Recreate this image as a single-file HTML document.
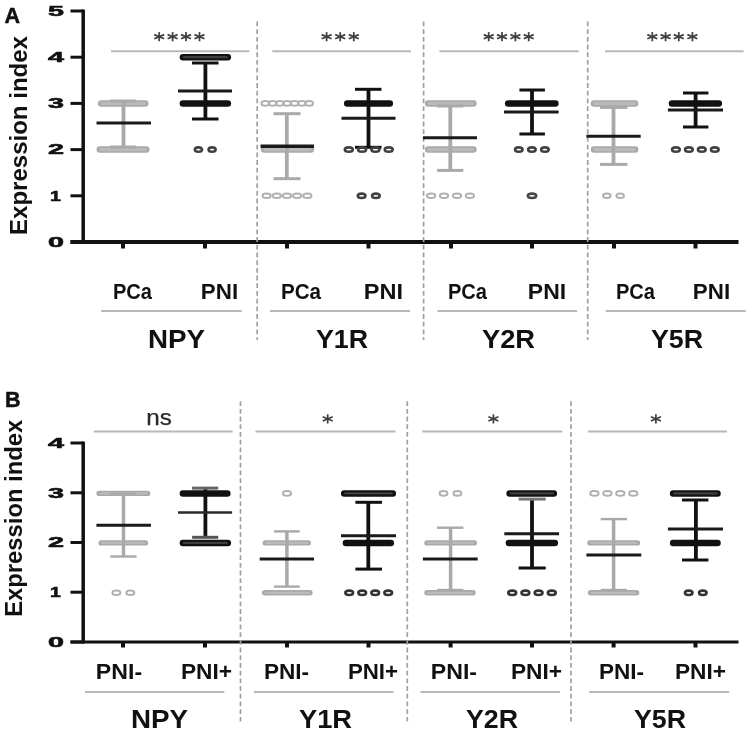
<!DOCTYPE html>
<html><head><meta charset="utf-8"><style>
html,body{margin:0;padding:0;background:#fff;}
svg{display:block;filter:blur(0.7px);}
text{font-family:"Liberation Sans",sans-serif;}
</style></head><body>
<svg width="749" height="733" viewBox="0 0 749 733">
<rect width="749" height="733" fill="#fff"/>
<text x="4.6" y="22.9" font-family="Liberation Sans" font-size="21.5" font-weight="bold" fill="#111" text-anchor="start" stroke="#111" stroke-width="0.5">A</text>
<text x="5.0" y="406.6" font-family="Liberation Sans" font-size="21.5" font-weight="bold" fill="#111" text-anchor="start" stroke="#111" stroke-width="0.5">B</text>
<text transform="translate(27.3,235) rotate(-90)" font-family="Liberation Sans" font-size="23.5" font-weight="bold" fill="#111" textLength="199" lengthAdjust="spacingAndGlyphs">Expression index</text>
<text transform="translate(22.3,616.8) rotate(-90)" font-family="Liberation Sans" font-size="23.5" font-weight="bold" fill="#111" textLength="197" lengthAdjust="spacingAndGlyphs">Expression index</text>
<text x="48" y="246.8" font-family="Liberation Sans" font-size="15.5" font-weight="bold" fill="#111" stroke="#111" stroke-width="0.6" textLength="16" lengthAdjust="spacingAndGlyphs">0</text>
<line x1="70.5" y1="242.0" x2="83.0" y2="242.0" stroke="#111" stroke-width="3" stroke-linecap="butt" />
<text x="50" y="200.6" font-family="Liberation Sans" font-size="15.5" font-weight="bold" fill="#111" stroke="#111" stroke-width="0.6" textLength="10.799999999999997" lengthAdjust="spacingAndGlyphs">1</text>
<line x1="70.5" y1="195.8" x2="83.0" y2="195.8" stroke="#111" stroke-width="3" stroke-linecap="butt" />
<text x="48" y="154.4" font-family="Liberation Sans" font-size="15.5" font-weight="bold" fill="#111" stroke="#111" stroke-width="0.6" textLength="16" lengthAdjust="spacingAndGlyphs">2</text>
<line x1="70.5" y1="149.6" x2="83.0" y2="149.6" stroke="#111" stroke-width="3" stroke-linecap="butt" />
<text x="48" y="108.2" font-family="Liberation Sans" font-size="15.5" font-weight="bold" fill="#111" stroke="#111" stroke-width="0.6" textLength="16" lengthAdjust="spacingAndGlyphs">3</text>
<line x1="70.5" y1="103.4" x2="83.0" y2="103.4" stroke="#111" stroke-width="3" stroke-linecap="butt" />
<text x="48" y="62.0" font-family="Liberation Sans" font-size="15.5" font-weight="bold" fill="#111" stroke="#111" stroke-width="0.6" textLength="16" lengthAdjust="spacingAndGlyphs">4</text>
<line x1="70.5" y1="57.2" x2="83.0" y2="57.2" stroke="#111" stroke-width="3" stroke-linecap="butt" />
<text x="48" y="15.8" font-family="Liberation Sans" font-size="15.5" font-weight="bold" fill="#111" stroke="#111" stroke-width="0.6" textLength="16" lengthAdjust="spacingAndGlyphs">5</text>
<line x1="70.5" y1="11.0" x2="83.0" y2="11.0" stroke="#111" stroke-width="3" stroke-linecap="butt" />
<text x="48" y="646.8" font-family="Liberation Sans" font-size="15.5" font-weight="bold" fill="#111" stroke="#111" stroke-width="0.6" textLength="16" lengthAdjust="spacingAndGlyphs">0</text>
<line x1="70.5" y1="642.0" x2="83.0" y2="642.0" stroke="#111" stroke-width="3" stroke-linecap="butt" />
<text x="50" y="597.0" font-family="Liberation Sans" font-size="15.5" font-weight="bold" fill="#111" stroke="#111" stroke-width="0.6" textLength="10.799999999999997" lengthAdjust="spacingAndGlyphs">1</text>
<line x1="70.5" y1="592.2" x2="83.0" y2="592.2" stroke="#111" stroke-width="3" stroke-linecap="butt" />
<text x="48" y="547.3" font-family="Liberation Sans" font-size="15.5" font-weight="bold" fill="#111" stroke="#111" stroke-width="0.6" textLength="16" lengthAdjust="spacingAndGlyphs">2</text>
<line x1="70.5" y1="542.5" x2="83.0" y2="542.5" stroke="#111" stroke-width="3" stroke-linecap="butt" />
<text x="48" y="497.6" font-family="Liberation Sans" font-size="15.5" font-weight="bold" fill="#111" stroke="#111" stroke-width="0.6" textLength="16" lengthAdjust="spacingAndGlyphs">3</text>
<line x1="70.5" y1="492.8" x2="83.0" y2="492.8" stroke="#111" stroke-width="3" stroke-linecap="butt" />
<text x="48" y="447.8" font-family="Liberation Sans" font-size="15.5" font-weight="bold" fill="#111" stroke="#111" stroke-width="0.6" textLength="16" lengthAdjust="spacingAndGlyphs">4</text>
<line x1="70.5" y1="443.0" x2="83.0" y2="443.0" stroke="#111" stroke-width="3" stroke-linecap="butt" />
<line x1="83.2" y1="9.5" x2="83.2" y2="243.7" stroke="#111" stroke-width="3.5" stroke-linecap="butt" />
<line x1="70.5" y1="242.0" x2="738.5" y2="242.0" stroke="#111" stroke-width="3.8" stroke-linecap="butt" />
<line x1="83.2" y1="441.5" x2="83.2" y2="643.5" stroke="#111" stroke-width="3.5" stroke-linecap="butt" />
<line x1="70.5" y1="642.0" x2="738.5" y2="642.0" stroke="#111" stroke-width="3" stroke-linecap="butt" />
<line x1="123.0" y1="242.0" x2="123.0" y2="248.5" stroke="#111" stroke-width="4" stroke-linecap="butt" />
<line x1="205.0" y1="242.0" x2="205.0" y2="248.5" stroke="#111" stroke-width="4" stroke-linecap="butt" />
<line x1="287.0" y1="242.0" x2="287.0" y2="248.5" stroke="#111" stroke-width="4" stroke-linecap="butt" />
<line x1="368.5" y1="242.0" x2="368.5" y2="248.5" stroke="#111" stroke-width="4" stroke-linecap="butt" />
<line x1="451.0" y1="242.0" x2="451.0" y2="248.5" stroke="#111" stroke-width="4" stroke-linecap="butt" />
<line x1="532.0" y1="242.0" x2="532.0" y2="248.5" stroke="#111" stroke-width="4" stroke-linecap="butt" />
<line x1="614.0" y1="242.0" x2="614.0" y2="248.5" stroke="#111" stroke-width="4" stroke-linecap="butt" />
<line x1="695.5" y1="242.0" x2="695.5" y2="248.5" stroke="#111" stroke-width="4" stroke-linecap="butt" />
<line x1="123.0" y1="642.0" x2="123.0" y2="647.5" stroke="#111" stroke-width="4" stroke-linecap="butt" />
<line x1="205.0" y1="642.0" x2="205.0" y2="647.5" stroke="#111" stroke-width="4" stroke-linecap="butt" />
<line x1="287.0" y1="642.0" x2="287.0" y2="647.5" stroke="#111" stroke-width="4" stroke-linecap="butt" />
<line x1="368.5" y1="642.0" x2="368.5" y2="647.5" stroke="#111" stroke-width="4" stroke-linecap="butt" />
<line x1="450.6" y1="642.0" x2="450.6" y2="647.5" stroke="#111" stroke-width="4" stroke-linecap="butt" />
<line x1="532.0" y1="642.0" x2="532.0" y2="647.5" stroke="#111" stroke-width="4" stroke-linecap="butt" />
<line x1="613.6" y1="642.0" x2="613.6" y2="647.5" stroke="#111" stroke-width="4" stroke-linecap="butt" />
<line x1="695.5" y1="642.0" x2="695.5" y2="647.5" stroke="#111" stroke-width="4" stroke-linecap="butt" />
<line x1="257.2" y1="21.5" x2="257.2" y2="340.0" stroke="#a0a0a0" stroke-width="1.7" stroke-linecap="butt" stroke-dasharray="4.8 2.9"/>
<line x1="423.6" y1="21.5" x2="423.6" y2="340.0" stroke="#a0a0a0" stroke-width="1.7" stroke-linecap="butt" stroke-dasharray="4.8 2.9"/>
<line x1="587.7" y1="21.5" x2="587.7" y2="340.0" stroke="#a0a0a0" stroke-width="1.7" stroke-linecap="butt" stroke-dasharray="4.8 2.9"/>
<line x1="240.5" y1="401.2" x2="240.5" y2="721.5" stroke="#a0a0a0" stroke-width="1.7" stroke-linecap="butt" stroke-dasharray="4.8 2.9"/>
<line x1="407.3" y1="401.2" x2="407.3" y2="721.5" stroke="#a0a0a0" stroke-width="1.7" stroke-linecap="butt" stroke-dasharray="4.8 2.9"/>
<line x1="571.0" y1="401.2" x2="571.0" y2="721.5" stroke="#a0a0a0" stroke-width="1.7" stroke-linecap="butt" stroke-dasharray="4.8 2.9"/>
<line x1="111.0" y1="51.3" x2="249.3" y2="51.3" stroke="#b8b8b8" stroke-width="2" stroke-linecap="butt" />
<line x1="272.3" y1="51.3" x2="411.0" y2="51.3" stroke="#b8b8b8" stroke-width="2" stroke-linecap="butt" />
<line x1="439.4" y1="51.3" x2="578.6" y2="51.3" stroke="#b8b8b8" stroke-width="2" stroke-linecap="butt" />
<line x1="605.0" y1="51.3" x2="743.6" y2="51.3" stroke="#b8b8b8" stroke-width="2" stroke-linecap="butt" />
<line x1="93.8" y1="431.5" x2="232.7" y2="431.5" stroke="#b8b8b8" stroke-width="2" stroke-linecap="butt" />
<line x1="255.4" y1="431.5" x2="395.4" y2="431.5" stroke="#b8b8b8" stroke-width="2" stroke-linecap="butt" />
<line x1="422.3" y1="431.5" x2="562.3" y2="431.5" stroke="#b8b8b8" stroke-width="2" stroke-linecap="butt" />
<line x1="587.9" y1="431.5" x2="727.0" y2="431.5" stroke="#b8b8b8" stroke-width="2" stroke-linecap="butt" />
<line x1="159.2" y1="32.1" x2="159.2" y2="41.3" stroke="#404040" stroke-width="1.75" stroke-linecap="butt" />
<line x1="154.2" y1="34.6" x2="164.2" y2="38.8" stroke="#404040" stroke-width="1.75" stroke-linecap="butt" />
<line x1="154.2" y1="38.8" x2="164.2" y2="34.6" stroke="#404040" stroke-width="1.75" stroke-linecap="butt" />
<line x1="172.6" y1="32.1" x2="172.6" y2="41.3" stroke="#404040" stroke-width="1.75" stroke-linecap="butt" />
<line x1="167.6" y1="34.6" x2="177.6" y2="38.8" stroke="#404040" stroke-width="1.75" stroke-linecap="butt" />
<line x1="167.6" y1="38.8" x2="177.6" y2="34.6" stroke="#404040" stroke-width="1.75" stroke-linecap="butt" />
<line x1="186.0" y1="32.1" x2="186.0" y2="41.3" stroke="#404040" stroke-width="1.75" stroke-linecap="butt" />
<line x1="181.0" y1="34.6" x2="191.0" y2="38.8" stroke="#404040" stroke-width="1.75" stroke-linecap="butt" />
<line x1="181.0" y1="38.8" x2="191.0" y2="34.6" stroke="#404040" stroke-width="1.75" stroke-linecap="butt" />
<line x1="199.5" y1="32.1" x2="199.5" y2="41.3" stroke="#404040" stroke-width="1.75" stroke-linecap="butt" />
<line x1="194.5" y1="34.6" x2="204.5" y2="38.8" stroke="#404040" stroke-width="1.75" stroke-linecap="butt" />
<line x1="194.5" y1="38.8" x2="204.5" y2="34.6" stroke="#404040" stroke-width="1.75" stroke-linecap="butt" />
<line x1="326.6" y1="32.1" x2="326.6" y2="41.3" stroke="#404040" stroke-width="1.75" stroke-linecap="butt" />
<line x1="321.6" y1="34.6" x2="331.6" y2="38.8" stroke="#404040" stroke-width="1.75" stroke-linecap="butt" />
<line x1="321.6" y1="38.8" x2="331.6" y2="34.6" stroke="#404040" stroke-width="1.75" stroke-linecap="butt" />
<line x1="340.2" y1="32.1" x2="340.2" y2="41.3" stroke="#404040" stroke-width="1.75" stroke-linecap="butt" />
<line x1="335.2" y1="34.6" x2="345.2" y2="38.8" stroke="#404040" stroke-width="1.75" stroke-linecap="butt" />
<line x1="335.2" y1="38.8" x2="345.2" y2="34.6" stroke="#404040" stroke-width="1.75" stroke-linecap="butt" />
<line x1="353.8" y1="32.1" x2="353.8" y2="41.3" stroke="#404040" stroke-width="1.75" stroke-linecap="butt" />
<line x1="348.8" y1="34.6" x2="358.8" y2="38.8" stroke="#404040" stroke-width="1.75" stroke-linecap="butt" />
<line x1="348.8" y1="38.8" x2="358.8" y2="34.6" stroke="#404040" stroke-width="1.75" stroke-linecap="butt" />
<line x1="488.7" y1="32.1" x2="488.7" y2="41.3" stroke="#404040" stroke-width="1.75" stroke-linecap="butt" />
<line x1="483.7" y1="34.6" x2="493.7" y2="38.8" stroke="#404040" stroke-width="1.75" stroke-linecap="butt" />
<line x1="483.7" y1="38.8" x2="493.7" y2="34.6" stroke="#404040" stroke-width="1.75" stroke-linecap="butt" />
<line x1="502.0" y1="32.1" x2="502.0" y2="41.3" stroke="#404040" stroke-width="1.75" stroke-linecap="butt" />
<line x1="497.0" y1="34.6" x2="507.0" y2="38.8" stroke="#404040" stroke-width="1.75" stroke-linecap="butt" />
<line x1="497.0" y1="38.8" x2="507.0" y2="34.6" stroke="#404040" stroke-width="1.75" stroke-linecap="butt" />
<line x1="515.4" y1="32.1" x2="515.4" y2="41.3" stroke="#404040" stroke-width="1.75" stroke-linecap="butt" />
<line x1="510.4" y1="34.6" x2="520.4" y2="38.8" stroke="#404040" stroke-width="1.75" stroke-linecap="butt" />
<line x1="510.4" y1="38.8" x2="520.4" y2="34.6" stroke="#404040" stroke-width="1.75" stroke-linecap="butt" />
<line x1="528.7" y1="32.1" x2="528.7" y2="41.3" stroke="#404040" stroke-width="1.75" stroke-linecap="butt" />
<line x1="523.7" y1="34.6" x2="533.7" y2="38.8" stroke="#404040" stroke-width="1.75" stroke-linecap="butt" />
<line x1="523.7" y1="38.8" x2="533.7" y2="34.6" stroke="#404040" stroke-width="1.75" stroke-linecap="butt" />
<line x1="652.3" y1="32.1" x2="652.3" y2="41.3" stroke="#404040" stroke-width="1.75" stroke-linecap="butt" />
<line x1="647.3" y1="34.6" x2="657.3" y2="38.8" stroke="#404040" stroke-width="1.75" stroke-linecap="butt" />
<line x1="647.3" y1="38.8" x2="657.3" y2="34.6" stroke="#404040" stroke-width="1.75" stroke-linecap="butt" />
<line x1="665.6" y1="32.1" x2="665.6" y2="41.3" stroke="#404040" stroke-width="1.75" stroke-linecap="butt" />
<line x1="660.6" y1="34.6" x2="670.6" y2="38.8" stroke="#404040" stroke-width="1.75" stroke-linecap="butt" />
<line x1="660.6" y1="38.8" x2="670.6" y2="34.6" stroke="#404040" stroke-width="1.75" stroke-linecap="butt" />
<line x1="678.8" y1="32.1" x2="678.8" y2="41.3" stroke="#404040" stroke-width="1.75" stroke-linecap="butt" />
<line x1="673.8" y1="34.6" x2="683.8" y2="38.8" stroke="#404040" stroke-width="1.75" stroke-linecap="butt" />
<line x1="673.8" y1="38.8" x2="683.8" y2="34.6" stroke="#404040" stroke-width="1.75" stroke-linecap="butt" />
<line x1="692.4" y1="32.1" x2="692.4" y2="41.3" stroke="#404040" stroke-width="1.75" stroke-linecap="butt" />
<line x1="687.4" y1="34.6" x2="697.4" y2="38.8" stroke="#404040" stroke-width="1.75" stroke-linecap="butt" />
<line x1="687.4" y1="38.8" x2="697.4" y2="34.6" stroke="#404040" stroke-width="1.75" stroke-linecap="butt" />
<line x1="327.7" y1="414.3" x2="327.7" y2="423.5" stroke="#404040" stroke-width="1.75" stroke-linecap="butt" />
<line x1="322.7" y1="416.8" x2="332.7" y2="421.0" stroke="#404040" stroke-width="1.75" stroke-linecap="butt" />
<line x1="322.7" y1="421.0" x2="332.7" y2="416.8" stroke="#404040" stroke-width="1.75" stroke-linecap="butt" />
<line x1="493.4" y1="414.3" x2="493.4" y2="423.5" stroke="#404040" stroke-width="1.75" stroke-linecap="butt" />
<line x1="488.4" y1="416.8" x2="498.4" y2="421.0" stroke="#404040" stroke-width="1.75" stroke-linecap="butt" />
<line x1="488.4" y1="421.0" x2="498.4" y2="416.8" stroke="#404040" stroke-width="1.75" stroke-linecap="butt" />
<line x1="655.9" y1="414.3" x2="655.9" y2="423.5" stroke="#404040" stroke-width="1.75" stroke-linecap="butt" />
<line x1="650.9" y1="416.8" x2="660.9" y2="421.0" stroke="#404040" stroke-width="1.75" stroke-linecap="butt" />
<line x1="650.9" y1="421.0" x2="660.9" y2="416.8" stroke="#404040" stroke-width="1.75" stroke-linecap="butt" />
<text x="146.3" y="425.3" font-family="Liberation Sans" font-size="22" font-weight="normal" fill="#2a2a2a" text-anchor="start" textLength="25.6" lengthAdjust="spacingAndGlyphs" stroke="#2a2a2a" stroke-width="0.25">ns</text>
<text x="112.91" y="299" font-family="Liberation Sans" font-size="22.6" font-weight="bold" fill="#111" text-anchor="start" textLength="39.09" lengthAdjust="spacingAndGlyphs" >PCa</text>
<text x="200.86" y="299" font-family="Liberation Sans" font-size="22.6" font-weight="bold" fill="#111" text-anchor="start" textLength="37.29" lengthAdjust="spacingAndGlyphs" >PNI</text>
<text x="280.91" y="299" font-family="Liberation Sans" font-size="22.6" font-weight="bold" fill="#111" text-anchor="start" textLength="40.09" lengthAdjust="spacingAndGlyphs" >PCa</text>
<text x="363.88" y="299" font-family="Liberation Sans" font-size="22.6" font-weight="bold" fill="#111" text-anchor="start" textLength="39.27" lengthAdjust="spacingAndGlyphs" >PNI</text>
<text x="447.98" y="299" font-family="Liberation Sans" font-size="22.6" font-weight="bold" fill="#111" text-anchor="start" textLength="39.05" lengthAdjust="spacingAndGlyphs" >PCa</text>
<text x="527.88" y="299" font-family="Liberation Sans" font-size="22.6" font-weight="bold" fill="#111" text-anchor="start" textLength="38.34" lengthAdjust="spacingAndGlyphs" >PNI</text>
<text x="615.91" y="299" font-family="Liberation Sans" font-size="22.6" font-weight="bold" fill="#111" text-anchor="start" textLength="39.09" lengthAdjust="spacingAndGlyphs" >PCa</text>
<text x="692.85" y="299" font-family="Liberation Sans" font-size="22.6" font-weight="bold" fill="#111" text-anchor="start" textLength="37.27" lengthAdjust="spacingAndGlyphs" >PNI</text>
<text x="95.89" y="679" font-family="Liberation Sans" font-size="22.6" font-weight="bold" fill="#111" text-anchor="start" textLength="46.20" lengthAdjust="spacingAndGlyphs" >PNI-</text>
<text x="180.90" y="679" font-family="Liberation Sans" font-size="22.6" font-weight="bold" fill="#111" text-anchor="start" textLength="51.16" lengthAdjust="spacingAndGlyphs" >PNI+</text>
<text x="263.90" y="679" font-family="Liberation Sans" font-size="22.6" font-weight="bold" fill="#111" text-anchor="start" textLength="45.19" lengthAdjust="spacingAndGlyphs" >PNI-</text>
<text x="347.91" y="679" font-family="Liberation Sans" font-size="22.6" font-weight="bold" fill="#111" text-anchor="start" textLength="50.15" lengthAdjust="spacingAndGlyphs" >PNI+</text>
<text x="430.84" y="679" font-family="Liberation Sans" font-size="22.6" font-weight="bold" fill="#111" text-anchor="start" textLength="46.24" lengthAdjust="spacingAndGlyphs" >PNI-</text>
<text x="510.94" y="679" font-family="Liberation Sans" font-size="22.6" font-weight="bold" fill="#111" text-anchor="start" textLength="51.16" lengthAdjust="spacingAndGlyphs" >PNI+</text>
<text x="598.93" y="679" font-family="Liberation Sans" font-size="22.6" font-weight="bold" fill="#111" text-anchor="start" textLength="45.11" lengthAdjust="spacingAndGlyphs" >PNI-</text>
<text x="674.91" y="679" font-family="Liberation Sans" font-size="22.6" font-weight="bold" fill="#111" text-anchor="start" textLength="51.15" lengthAdjust="spacingAndGlyphs" >PNI+</text>
<text x="147.91" y="347.8" font-family="Liberation Sans" font-size="26.2" font-weight="bold" fill="#111" text-anchor="start" textLength="57.11" lengthAdjust="spacingAndGlyphs" >NPY</text>
<text x="315.92" y="347.8" font-family="Liberation Sans" font-size="26.2" font-weight="bold" fill="#111" text-anchor="start" textLength="52.15" lengthAdjust="spacingAndGlyphs" >Y1R</text>
<text x="481.93" y="347.8" font-family="Liberation Sans" font-size="26.2" font-weight="bold" fill="#111" text-anchor="start" textLength="53.12" lengthAdjust="spacingAndGlyphs" >Y2R</text>
<text x="650.93" y="347.8" font-family="Liberation Sans" font-size="26.2" font-weight="bold" fill="#111" text-anchor="start" textLength="52.15" lengthAdjust="spacingAndGlyphs" >Y5R</text>
<text x="130.93" y="728.3" font-family="Liberation Sans" font-size="26.2" font-weight="bold" fill="#111" text-anchor="start" textLength="57.10" lengthAdjust="spacingAndGlyphs" >NPY</text>
<text x="298.93" y="728.3" font-family="Liberation Sans" font-size="26.2" font-weight="bold" fill="#111" text-anchor="start" textLength="53.13" lengthAdjust="spacingAndGlyphs" >Y1R</text>
<text x="465.96" y="728.3" font-family="Liberation Sans" font-size="26.2" font-weight="bold" fill="#111" text-anchor="start" textLength="52.11" lengthAdjust="spacingAndGlyphs" >Y2R</text>
<text x="633.96" y="728.3" font-family="Liberation Sans" font-size="26.2" font-weight="bold" fill="#111" text-anchor="start" textLength="52.08" lengthAdjust="spacingAndGlyphs" >Y5R</text>
<line x1="101.2" y1="311.0" x2="241.7" y2="311.0" stroke="#b8b8b8" stroke-width="2" stroke-linecap="butt" />
<line x1="270.0" y1="311.0" x2="410.0" y2="311.0" stroke="#b8b8b8" stroke-width="2" stroke-linecap="butt" />
<line x1="437.4" y1="311.0" x2="577.0" y2="311.0" stroke="#b8b8b8" stroke-width="2" stroke-linecap="butt" />
<line x1="605.7" y1="311.0" x2="745.7" y2="311.0" stroke="#b8b8b8" stroke-width="2" stroke-linecap="butt" />
<line x1="85.0" y1="692.0" x2="224.3" y2="692.0" stroke="#b8b8b8" stroke-width="2" stroke-linecap="butt" />
<line x1="254.0" y1="692.0" x2="393.4" y2="692.0" stroke="#b8b8b8" stroke-width="2" stroke-linecap="butt" />
<line x1="420.6" y1="692.0" x2="560.0" y2="692.0" stroke="#b8b8b8" stroke-width="2" stroke-linecap="butt" />
<line x1="589.3" y1="692.0" x2="729.3" y2="692.0" stroke="#b8b8b8" stroke-width="2" stroke-linecap="butt" />
<line x1="101.2" y1="103.4" x2="145.2" y2="103.4" stroke="#a9a9a9" stroke-width="6.5" stroke-linecap="round" />
<line x1="102.2" y1="103.4" x2="144.2" y2="103.4" stroke="#bababa" stroke-width="3.3" stroke-linecap="round" />
<line x1="99.8" y1="149.6" x2="146.2" y2="149.6" stroke="#a9a9a9" stroke-width="6.5" stroke-linecap="round" />
<line x1="100.8" y1="149.6" x2="145.2" y2="149.6" stroke="#bababa" stroke-width="3.3" stroke-linecap="round" />
<line x1="123.5" y1="101.0" x2="123.5" y2="147.0" stroke="#a9a9a9" stroke-width="3.8" stroke-linecap="butt" />
<line x1="110.0" y1="101.0" x2="136.0" y2="101.0" stroke="#a9a9a9" stroke-width="3" stroke-linecap="butt" />
<line x1="110.0" y1="147.0" x2="136.0" y2="147.0" stroke="#a9a9a9" stroke-width="3" stroke-linecap="butt" />
<line x1="96.5" y1="122.9" x2="151.0" y2="122.9" stroke="#1a1a1a" stroke-width="3" stroke-linecap="butt" />
<line x1="182.9" y1="57.2" x2="227.8" y2="57.2" stroke="#111" stroke-width="6.5" stroke-linecap="round" />
<line x1="183.9" y1="57.2" x2="226.8" y2="57.2" stroke="#3e3e3e" stroke-width="2.2" stroke-linecap="round" />
<line x1="182.9" y1="103.4" x2="227.8" y2="103.4" stroke="#111" stroke-width="6.5" stroke-linecap="round" />
<line x1="205.4" y1="63.0" x2="205.4" y2="119.0" stroke="#111" stroke-width="3.8" stroke-linecap="butt" />
<line x1="192.0" y1="63.0" x2="218.5" y2="63.0" stroke="#111" stroke-width="3" stroke-linecap="butt" />
<line x1="192.0" y1="119.0" x2="218.5" y2="119.0" stroke="#111" stroke-width="3" stroke-linecap="butt" />
<line x1="178.0" y1="90.9" x2="232.0" y2="90.9" stroke="#1a1a1a" stroke-width="3" stroke-linecap="butt" />
<ellipse cx="198.4" cy="149.6" rx="3.55" ry="2.20" fill="none" stroke="#404040" stroke-width="2.6"/>
<ellipse cx="212.1" cy="149.6" rx="3.55" ry="2.20" fill="none" stroke="#404040" stroke-width="2.6"/>
<ellipse cx="265.3" cy="103.4" rx="3.80" ry="2.30" fill="none" stroke="#b0b0b0" stroke-width="2.0"/>
<ellipse cx="272.6" cy="103.4" rx="3.80" ry="2.30" fill="none" stroke="#b0b0b0" stroke-width="2.0"/>
<ellipse cx="279.9" cy="103.4" rx="3.80" ry="2.30" fill="none" stroke="#b0b0b0" stroke-width="2.0"/>
<ellipse cx="287.2" cy="103.4" rx="3.80" ry="2.30" fill="none" stroke="#b0b0b0" stroke-width="2.0"/>
<ellipse cx="294.6" cy="103.4" rx="3.80" ry="2.30" fill="none" stroke="#b0b0b0" stroke-width="2.0"/>
<ellipse cx="301.9" cy="103.4" rx="3.80" ry="2.30" fill="none" stroke="#b0b0b0" stroke-width="2.0"/>
<ellipse cx="309.2" cy="103.4" rx="3.80" ry="2.30" fill="none" stroke="#b0b0b0" stroke-width="2.0"/>
<line x1="264.2" y1="149.6" x2="310.8" y2="149.6" stroke="#a9a9a9" stroke-width="6.5" stroke-linecap="round" />
<line x1="265.2" y1="149.6" x2="309.8" y2="149.6" stroke="#bababa" stroke-width="3.3" stroke-linecap="round" />
<ellipse cx="266.6" cy="195.8" rx="4.10" ry="2.30" fill="none" stroke="#b0b0b0" stroke-width="2.0"/>
<ellipse cx="276.8" cy="195.8" rx="4.10" ry="2.30" fill="none" stroke="#b0b0b0" stroke-width="2.0"/>
<ellipse cx="287.0" cy="195.8" rx="4.10" ry="2.30" fill="none" stroke="#b0b0b0" stroke-width="2.0"/>
<ellipse cx="297.2" cy="195.8" rx="4.10" ry="2.30" fill="none" stroke="#b0b0b0" stroke-width="2.0"/>
<ellipse cx="307.4" cy="195.8" rx="4.10" ry="2.30" fill="none" stroke="#b0b0b0" stroke-width="2.0"/>
<line x1="286.8" y1="113.7" x2="286.8" y2="178.7" stroke="#a9a9a9" stroke-width="3.8" stroke-linecap="butt" />
<line x1="273.5" y1="113.7" x2="300.5" y2="113.7" stroke="#a9a9a9" stroke-width="3" stroke-linecap="butt" />
<line x1="273.5" y1="178.7" x2="300.5" y2="178.7" stroke="#a9a9a9" stroke-width="3" stroke-linecap="butt" />
<line x1="260.5" y1="146.3" x2="314.0" y2="146.3" stroke="#1a1a1a" stroke-width="3.5" stroke-linecap="butt" />
<line x1="347.2" y1="103.4" x2="389.8" y2="103.4" stroke="#111" stroke-width="6.5" stroke-linecap="round" />
<line x1="368.5" y1="89.3" x2="368.5" y2="147.3" stroke="#111" stroke-width="3.8" stroke-linecap="butt" />
<line x1="355.0" y1="89.3" x2="381.5" y2="89.3" stroke="#111" stroke-width="3" stroke-linecap="butt" />
<line x1="355.0" y1="147.3" x2="381.5" y2="147.3" stroke="#111" stroke-width="3" stroke-linecap="butt" />
<line x1="341.5" y1="118.3" x2="395.5" y2="118.3" stroke="#1a1a1a" stroke-width="3" stroke-linecap="butt" />
<ellipse cx="348.8" cy="149.6" rx="4.01" ry="2.20" fill="none" stroke="#404040" stroke-width="2.6"/>
<ellipse cx="362.1" cy="149.6" rx="4.01" ry="2.20" fill="none" stroke="#404040" stroke-width="2.6"/>
<ellipse cx="375.4" cy="149.6" rx="4.01" ry="2.20" fill="none" stroke="#404040" stroke-width="2.6"/>
<ellipse cx="388.7" cy="149.6" rx="4.01" ry="2.20" fill="none" stroke="#404040" stroke-width="2.6"/>
<ellipse cx="361.6" cy="195.8" rx="3.83" ry="2.20" fill="none" stroke="#404040" stroke-width="2.6"/>
<ellipse cx="375.9" cy="195.8" rx="3.83" ry="2.20" fill="none" stroke="#404040" stroke-width="2.6"/>
<line x1="428.2" y1="103.4" x2="473.4" y2="103.4" stroke="#a9a9a9" stroke-width="6.5" stroke-linecap="round" />
<line x1="429.2" y1="103.4" x2="472.4" y2="103.4" stroke="#bababa" stroke-width="3.3" stroke-linecap="round" />
<line x1="428.2" y1="149.6" x2="473.4" y2="149.6" stroke="#a9a9a9" stroke-width="6.5" stroke-linecap="round" />
<line x1="429.2" y1="149.6" x2="472.4" y2="149.6" stroke="#bababa" stroke-width="3.3" stroke-linecap="round" />
<ellipse cx="431.1" cy="195.8" rx="4.12" ry="2.30" fill="none" stroke="#b0b0b0" stroke-width="2.0"/>
<ellipse cx="444.0" cy="195.8" rx="4.12" ry="2.30" fill="none" stroke="#b0b0b0" stroke-width="2.0"/>
<ellipse cx="457.0" cy="195.8" rx="4.12" ry="2.30" fill="none" stroke="#b0b0b0" stroke-width="2.0"/>
<ellipse cx="469.9" cy="195.8" rx="4.12" ry="2.30" fill="none" stroke="#b0b0b0" stroke-width="2.0"/>
<line x1="450.3" y1="106.0" x2="450.3" y2="170.4" stroke="#a9a9a9" stroke-width="3.8" stroke-linecap="butt" />
<line x1="437.1" y1="106.0" x2="463.3" y2="106.0" stroke="#a9a9a9" stroke-width="3" stroke-linecap="butt" />
<line x1="437.1" y1="170.4" x2="463.3" y2="170.4" stroke="#a9a9a9" stroke-width="3" stroke-linecap="butt" />
<line x1="423.0" y1="137.7" x2="477.0" y2="137.7" stroke="#1a1a1a" stroke-width="3" stroke-linecap="butt" />
<line x1="508.2" y1="103.4" x2="555.4" y2="103.4" stroke="#111" stroke-width="6.5" stroke-linecap="round" />
<line x1="532.0" y1="90.0" x2="532.0" y2="134.0" stroke="#111" stroke-width="3.8" stroke-linecap="butt" />
<line x1="519.4" y1="90.0" x2="544.9" y2="90.0" stroke="#111" stroke-width="3" stroke-linecap="butt" />
<line x1="519.4" y1="134.0" x2="544.9" y2="134.0" stroke="#111" stroke-width="3" stroke-linecap="butt" />
<line x1="504.0" y1="112.0" x2="558.6" y2="112.0" stroke="#1a1a1a" stroke-width="3" stroke-linecap="butt" />
<ellipse cx="518.8" cy="149.6" rx="3.75" ry="2.20" fill="none" stroke="#404040" stroke-width="2.6"/>
<ellipse cx="531.9" cy="149.6" rx="3.75" ry="2.20" fill="none" stroke="#404040" stroke-width="2.6"/>
<ellipse cx="544.9" cy="149.6" rx="3.75" ry="2.20" fill="none" stroke="#404040" stroke-width="2.6"/>
<ellipse cx="532.0" cy="195.8" rx="4.20" ry="2.20" fill="none" stroke="#474747" stroke-width="2.6"/>
<line x1="594.0" y1="103.4" x2="635.1" y2="103.4" stroke="#a9a9a9" stroke-width="6.5" stroke-linecap="round" />
<line x1="595.0" y1="103.4" x2="634.1" y2="103.4" stroke="#bababa" stroke-width="3.3" stroke-linecap="round" />
<line x1="594.0" y1="149.6" x2="635.1" y2="149.6" stroke="#a9a9a9" stroke-width="6.5" stroke-linecap="round" />
<line x1="595.0" y1="149.6" x2="634.1" y2="149.6" stroke="#bababa" stroke-width="3.3" stroke-linecap="round" />
<ellipse cx="606.8" cy="195.8" rx="3.75" ry="2.30" fill="none" stroke="#b0b0b0" stroke-width="2.0"/>
<ellipse cx="620.2" cy="195.8" rx="3.75" ry="2.30" fill="none" stroke="#b0b0b0" stroke-width="2.0"/>
<line x1="613.5" y1="107.4" x2="613.5" y2="164.4" stroke="#a9a9a9" stroke-width="3.8" stroke-linecap="butt" />
<line x1="600.0" y1="107.4" x2="627.5" y2="107.4" stroke="#a9a9a9" stroke-width="3" stroke-linecap="butt" />
<line x1="600.0" y1="164.4" x2="627.5" y2="164.4" stroke="#a9a9a9" stroke-width="3" stroke-linecap="butt" />
<line x1="586.4" y1="136.3" x2="640.7" y2="136.3" stroke="#1a1a1a" stroke-width="3" stroke-linecap="butt" />
<line x1="672.0" y1="103.4" x2="718.8" y2="103.4" stroke="#111" stroke-width="6.5" stroke-linecap="round" />
<line x1="695.6" y1="93.0" x2="695.6" y2="127.0" stroke="#111" stroke-width="3.8" stroke-linecap="butt" />
<line x1="683.0" y1="93.0" x2="708.4" y2="93.0" stroke="#111" stroke-width="3" stroke-linecap="butt" />
<line x1="683.0" y1="127.0" x2="708.4" y2="127.0" stroke="#111" stroke-width="3" stroke-linecap="butt" />
<line x1="667.9" y1="110.0" x2="723.0" y2="110.0" stroke="#1a1a1a" stroke-width="3" stroke-linecap="butt" />
<ellipse cx="675.9" cy="149.6" rx="3.86" ry="2.20" fill="none" stroke="#404040" stroke-width="2.6"/>
<ellipse cx="688.9" cy="149.6" rx="3.86" ry="2.20" fill="none" stroke="#404040" stroke-width="2.6"/>
<ellipse cx="701.8" cy="149.6" rx="3.86" ry="2.20" fill="none" stroke="#404040" stroke-width="2.6"/>
<ellipse cx="714.8" cy="149.6" rx="3.86" ry="2.20" fill="none" stroke="#404040" stroke-width="2.6"/>
<line x1="99.1" y1="493.4" x2="147.6" y2="493.4" stroke="#a9a9a9" stroke-width="5.4" stroke-linecap="round" />
<line x1="100.1" y1="493.4" x2="146.6" y2="493.4" stroke="#bababa" stroke-width="2.2" stroke-linecap="round" />
<line x1="101.2" y1="542.9" x2="145.4" y2="542.9" stroke="#a9a9a9" stroke-width="5.4" stroke-linecap="round" />
<line x1="102.2" y1="542.9" x2="144.4" y2="542.9" stroke="#bababa" stroke-width="2.2" stroke-linecap="round" />
<ellipse cx="116.4" cy="592.8" rx="3.98" ry="2.30" fill="none" stroke="#b0b0b0" stroke-width="2.0"/>
<ellipse cx="130.3" cy="592.8" rx="3.98" ry="2.30" fill="none" stroke="#b0b0b0" stroke-width="2.0"/>
<line x1="123.5" y1="493.5" x2="123.5" y2="556.5" stroke="#a9a9a9" stroke-width="3.5" stroke-linecap="butt" />
<line x1="110.3" y1="493.5" x2="136.6" y2="493.5" stroke="#a9a9a9" stroke-width="2.4" stroke-linecap="butt" />
<line x1="110.3" y1="556.5" x2="136.6" y2="556.5" stroke="#a9a9a9" stroke-width="2.4" stroke-linecap="butt" />
<line x1="96.4" y1="525.3" x2="150.9" y2="525.3" stroke="#1a1a1a" stroke-width="3" stroke-linecap="butt" />
<line x1="182.9" y1="493.4" x2="227.3" y2="493.4" stroke="#111" stroke-width="6.5" stroke-linecap="round" />
<line x1="182.9" y1="542.9" x2="227.8" y2="542.9" stroke="#111" stroke-width="6.5" stroke-linecap="round" />
<line x1="183.9" y1="542.9" x2="226.8" y2="542.9" stroke="#3e3e3e" stroke-width="2.2" stroke-linecap="round" />
<line x1="205.4" y1="488.1" x2="205.4" y2="537.3" stroke="#111" stroke-width="3.8" stroke-linecap="butt" />
<line x1="192.1" y1="488.1" x2="218.2" y2="488.1" stroke="#666" stroke-width="3" stroke-linecap="butt" />
<line x1="192.1" y1="537.3" x2="218.2" y2="537.3" stroke="#555" stroke-width="3" stroke-linecap="butt" />
<line x1="178.0" y1="512.5" x2="232.1" y2="512.5" stroke="#2a2a2a" stroke-width="2.5" stroke-linecap="butt" />
<ellipse cx="287.0" cy="493.4" rx="4.10" ry="2.30" fill="none" stroke="#b0b0b0" stroke-width="2.0"/>
<line x1="265.3" y1="542.9" x2="308.3" y2="542.9" stroke="#a9a9a9" stroke-width="5.4" stroke-linecap="round" />
<line x1="266.3" y1="542.9" x2="307.3" y2="542.9" stroke="#bababa" stroke-width="2.2" stroke-linecap="round" />
<line x1="264.7" y1="592.8" x2="309.9" y2="592.8" stroke="#a9a9a9" stroke-width="5.4" stroke-linecap="round" />
<line x1="265.7" y1="592.8" x2="308.9" y2="592.8" stroke="#bababa" stroke-width="2.2" stroke-linecap="round" />
<line x1="286.9" y1="531.4" x2="286.9" y2="586.6" stroke="#a9a9a9" stroke-width="3.5" stroke-linecap="butt" />
<line x1="274.0" y1="531.4" x2="299.7" y2="531.4" stroke="#a9a9a9" stroke-width="2.4" stroke-linecap="butt" />
<line x1="274.0" y1="586.6" x2="299.7" y2="586.6" stroke="#a9a9a9" stroke-width="2.4" stroke-linecap="butt" />
<line x1="259.7" y1="559.1" x2="314.0" y2="559.1" stroke="#1a1a1a" stroke-width="3" stroke-linecap="butt" />
<line x1="344.2" y1="493.4" x2="392.8" y2="493.4" stroke="#111" stroke-width="6.5" stroke-linecap="round" />
<line x1="345.2" y1="493.4" x2="391.8" y2="493.4" stroke="#4a4a4a" stroke-width="1.8" stroke-linecap="round" />
<line x1="345.9" y1="542.9" x2="390.8" y2="542.9" stroke="#111" stroke-width="6.5" stroke-linecap="round" />
<line x1="368.3" y1="502.3" x2="368.3" y2="569.1" stroke="#111" stroke-width="3.8" stroke-linecap="butt" />
<line x1="355.4" y1="502.3" x2="382.0" y2="502.3" stroke="#111" stroke-width="3" stroke-linecap="butt" />
<line x1="355.4" y1="569.1" x2="382.0" y2="569.1" stroke="#111" stroke-width="3" stroke-linecap="butt" />
<line x1="341.0" y1="535.7" x2="396.0" y2="535.7" stroke="#1a1a1a" stroke-width="3" stroke-linecap="butt" />
<ellipse cx="349.2" cy="592.8" rx="3.87" ry="2.20" fill="none" stroke="#333" stroke-width="2.6"/>
<ellipse cx="362.2" cy="592.8" rx="3.87" ry="2.20" fill="none" stroke="#333" stroke-width="2.6"/>
<ellipse cx="375.2" cy="592.8" rx="3.87" ry="2.20" fill="none" stroke="#333" stroke-width="2.6"/>
<ellipse cx="388.2" cy="592.8" rx="3.87" ry="2.20" fill="none" stroke="#333" stroke-width="2.6"/>
<ellipse cx="443.5" cy="493.4" rx="3.92" ry="2.30" fill="none" stroke="#b0b0b0" stroke-width="2.0"/>
<ellipse cx="457.4" cy="493.4" rx="3.92" ry="2.30" fill="none" stroke="#b0b0b0" stroke-width="2.0"/>
<line x1="427.0" y1="542.9" x2="474.3" y2="542.9" stroke="#a9a9a9" stroke-width="5.4" stroke-linecap="round" />
<line x1="428.0" y1="542.9" x2="473.3" y2="542.9" stroke="#bababa" stroke-width="2.2" stroke-linecap="round" />
<line x1="427.0" y1="592.8" x2="473.0" y2="592.8" stroke="#a9a9a9" stroke-width="5.4" stroke-linecap="round" />
<line x1="428.0" y1="592.8" x2="472.0" y2="592.8" stroke="#bababa" stroke-width="2.2" stroke-linecap="round" />
<line x1="450.6" y1="527.7" x2="450.6" y2="590.0" stroke="#a9a9a9" stroke-width="3.5" stroke-linecap="butt" />
<line x1="437.0" y1="527.7" x2="463.4" y2="527.7" stroke="#a9a9a9" stroke-width="2.4" stroke-linecap="butt" />
<line x1="437.0" y1="590.0" x2="463.4" y2="590.0" stroke="#a9a9a9" stroke-width="2.4" stroke-linecap="butt" />
<line x1="422.9" y1="559.1" x2="477.7" y2="559.1" stroke="#1a1a1a" stroke-width="3" stroke-linecap="butt" />
<line x1="509.6" y1="493.4" x2="553.8" y2="493.4" stroke="#111" stroke-width="6.5" stroke-linecap="round" />
<line x1="510.6" y1="493.4" x2="552.8" y2="493.4" stroke="#3e3e3e" stroke-width="2.2" stroke-linecap="round" />
<line x1="508.9" y1="542.9" x2="554.8" y2="542.9" stroke="#111" stroke-width="6.5" stroke-linecap="round" />
<line x1="532.0" y1="499.1" x2="532.0" y2="568.0" stroke="#111" stroke-width="3.8" stroke-linecap="butt" />
<line x1="518.6" y1="499.1" x2="545.7" y2="499.1" stroke="#777" stroke-width="3" stroke-linecap="butt" />
<line x1="518.6" y1="568.0" x2="545.7" y2="568.0" stroke="#111" stroke-width="3" stroke-linecap="butt" />
<line x1="504.3" y1="533.7" x2="559.1" y2="533.7" stroke="#1a1a1a" stroke-width="3" stroke-linecap="butt" />
<ellipse cx="512.2" cy="592.8" rx="3.95" ry="2.20" fill="none" stroke="#333" stroke-width="2.6"/>
<ellipse cx="525.4" cy="592.8" rx="3.95" ry="2.20" fill="none" stroke="#333" stroke-width="2.6"/>
<ellipse cx="538.6" cy="592.8" rx="3.95" ry="2.20" fill="none" stroke="#333" stroke-width="2.6"/>
<ellipse cx="551.8" cy="592.8" rx="3.95" ry="2.20" fill="none" stroke="#333" stroke-width="2.6"/>
<ellipse cx="594.4" cy="493.4" rx="4.14" ry="2.30" fill="none" stroke="#b0b0b0" stroke-width="2.0"/>
<ellipse cx="607.4" cy="493.4" rx="4.14" ry="2.30" fill="none" stroke="#b0b0b0" stroke-width="2.0"/>
<ellipse cx="620.3" cy="493.4" rx="4.14" ry="2.30" fill="none" stroke="#b0b0b0" stroke-width="2.0"/>
<ellipse cx="633.3" cy="493.4" rx="4.14" ry="2.30" fill="none" stroke="#b0b0b0" stroke-width="2.0"/>
<line x1="590.0" y1="542.9" x2="637.4" y2="542.9" stroke="#a9a9a9" stroke-width="5.4" stroke-linecap="round" />
<line x1="591.0" y1="542.9" x2="636.4" y2="542.9" stroke="#bababa" stroke-width="2.2" stroke-linecap="round" />
<line x1="590.6" y1="592.8" x2="636.6" y2="592.8" stroke="#a9a9a9" stroke-width="5.4" stroke-linecap="round" />
<line x1="591.6" y1="592.8" x2="635.6" y2="592.8" stroke="#bababa" stroke-width="2.2" stroke-linecap="round" />
<line x1="613.6" y1="519.1" x2="613.6" y2="590.0" stroke="#a9a9a9" stroke-width="3.5" stroke-linecap="butt" />
<line x1="600.7" y1="519.1" x2="627.0" y2="519.1" stroke="#a9a9a9" stroke-width="2.4" stroke-linecap="butt" />
<line x1="600.7" y1="590.0" x2="627.0" y2="590.0" stroke="#a9a9a9" stroke-width="2.4" stroke-linecap="butt" />
<line x1="586.4" y1="554.9" x2="641.3" y2="554.9" stroke="#1a1a1a" stroke-width="3" stroke-linecap="butt" />
<line x1="673.1" y1="493.4" x2="717.5" y2="493.4" stroke="#111" stroke-width="6.5" stroke-linecap="round" />
<line x1="674.1" y1="493.4" x2="716.5" y2="493.4" stroke="#3e3e3e" stroke-width="2.2" stroke-linecap="round" />
<line x1="673.1" y1="542.9" x2="717.5" y2="542.9" stroke="#111" stroke-width="6.5" stroke-linecap="round" />
<line x1="695.9" y1="500.0" x2="695.9" y2="560.0" stroke="#111" stroke-width="3.8" stroke-linecap="butt" />
<line x1="682.0" y1="500.0" x2="708.4" y2="500.0" stroke="#111" stroke-width="3" stroke-linecap="butt" />
<line x1="682.0" y1="560.0" x2="708.4" y2="560.0" stroke="#111" stroke-width="3" stroke-linecap="butt" />
<line x1="667.9" y1="529.1" x2="723.0" y2="529.1" stroke="#1a1a1a" stroke-width="3" stroke-linecap="butt" />
<ellipse cx="688.7" cy="592.8" rx="3.77" ry="2.20" fill="none" stroke="#333" stroke-width="2.6"/>
<ellipse cx="702.8" cy="592.8" rx="3.77" ry="2.20" fill="none" stroke="#333" stroke-width="2.6"/>
</svg>
</body></html>
